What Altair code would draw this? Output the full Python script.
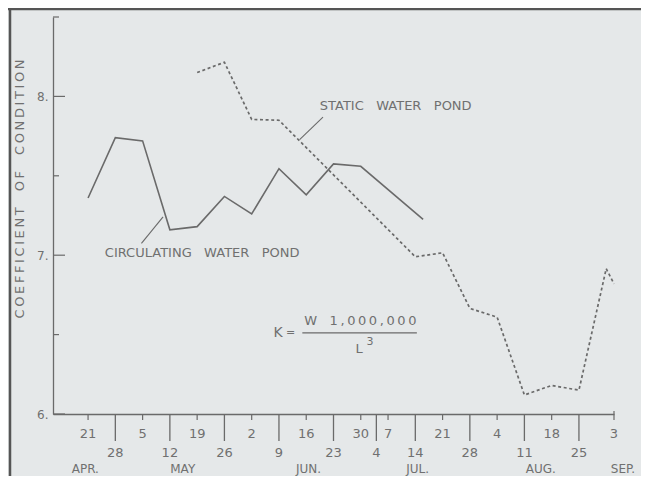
import altair as alt
import pandas as pd

# x is counted in days from April 21
circ_days = [0, 7, 14, 21, 28, 35, 42, 49, 56, 63, 70, 86]
circ_vals = [7.36, 7.74, 7.72, 7.16, 7.18, 7.37, 7.26, 7.545, 7.38, 7.575, 7.56, 7.225]

static_days = [28, 35, 42, 49, 84, 91, 98, 105, 112, 119, 126, 133, 135]
static_vals = [8.15, 8.215, 7.855, 7.85, 6.99, 7.015, 6.665, 6.61, 6.12, 6.18, 6.15, 6.915, 6.82]

row1_days = [0, 14, 28, 42, 56, 70, 77, 91, 105, 119, 135]
row1_labels = ["21", "5", "19", "2", "16", "30", "7", "21", "4", "18", "3"]
row2_days = [7, 21, 35, 49, 63, 74, 84, 98, 112, 126]
row2_labels = ["28", "12", "26", "9", "23", "4", "14", "28", "11", "25"]
month_days = [-0.7, 24.3, 56.6, 84.6, 116.2, 137.3]
month_labels = ["APR.", "MAY", "JUN.", "JUL.", "AUG.", "SEP."]

y_major = [6, 7, 8]
y_minor = [6.5, 7.5, 8.5]

X_DOMAIN = [-9, 135]
Y_DOMAIN = [6, 8.5]
W, H = 561, 397
INK = "#6a6a6a"
TXT = "#707070"
FONT = "DejaVu Sans"

def spread(s, sep="\u200a"):
    return sep.join(s)

xs = alt.Scale(domain=X_DOMAIN, nice=False, zero=False)
ys = alt.Scale(domain=Y_DOMAIN, nice=False, zero=False)

circ = pd.DataFrame({"d": circ_days, "v": circ_vals})
stat = pd.DataFrame({"d": static_days, "v": static_vals})

base_x = alt.X("d:Q", scale=xs,
               axis=alt.Axis(labels=False, ticks=False, grid=False, title=None,
                             domainColor=INK, domainWidth=1.3))
base_y = alt.Y("v:Q", scale=ys,
               axis=alt.Axis(values=y_major, labelExpr="datum.value + '.'", ticks=False,
                             grid=False, title=None, labelPadding=5, labelFontSize=12,
                             labelColor=TXT, labelFont=FONT,
                             domainColor=INK, domainWidth=1.3))

circ_line = alt.Chart(circ).mark_line(color=INK, strokeWidth=1.6).encode(x=base_x, y=base_y)
stat_line = alt.Chart(stat).mark_line(color=INK, strokeWidth=1.7, strokeDash=[3, 2.6]).encode(
    x=alt.X("d:Q", scale=xs), y=alt.Y("v:Q", scale=ys))

# y ticks (pointing into the plot)
ymaj = alt.Chart(pd.DataFrame({"v": y_major})).mark_rule(color=INK, strokeWidth=1.2).encode(
    y=alt.Y("v:Q", scale=ys), x=alt.value(0), x2=alt.value(12))
ymin = alt.Chart(pd.DataFrame({"v": y_minor})).mark_rule(color=INK, strokeWidth=1.2).encode(
    y=alt.Y("v:Q", scale=ys), x=alt.value(0), x2=alt.value(6))

# x ticks
r1 = pd.DataFrame({"d": row1_days, "t": row1_labels})
r2 = pd.DataFrame({"d": row2_days, "t": row2_labels})
mo = pd.DataFrame({"d": month_days, "t": month_labels})

t1 = alt.Chart(r1).mark_rule(color=INK, strokeWidth=1.2).encode(
    x=alt.X("d:Q", scale=xs), y=alt.value(H), y2=alt.value(H + 6))
t2 = alt.Chart(r2).mark_rule(color=INK, strokeWidth=1.3).encode(
    x=alt.X("d:Q", scale=xs), y=alt.value(H), y2=alt.value(H + 27))
cap = alt.Chart(pd.DataFrame({"d": [135]})).mark_rule(color=INK, strokeWidth=1.2).encode(
    x=alt.X("d:Q", scale=xs), y=alt.value(H - 3), y2=alt.value(H))
l1 = alt.Chart(r1).mark_text(font=FONT, fontSize=13, color=TXT, baseline="middle").encode(
    x=alt.X("d:Q", scale=xs), y=alt.value(H + 20), text="t:N")
l2 = alt.Chart(r2).mark_text(font=FONT, fontSize=13, color=TXT, baseline="middle").encode(
    x=alt.X("d:Q", scale=xs), y=alt.value(H + 39), text="t:N")
lm = alt.Chart(mo).mark_text(font=FONT, fontSize=12, color=TXT, baseline="middle").encode(
    x=alt.X("d:Q", scale=xs), y=alt.value(H + 55), text="t:N")

# annotations (in data units)
ann_text = pd.DataFrame({
    "d": [59.5, 4.3],
    "v": [7.937, 7.014],
    "t": ["STATIC\u00a0\u00a0 WATER\u00a0\u00a0 POND", "CIRCULATING\u00a0\u00a0 WATER\u00a0\u00a0 POND"],
})
ann = alt.Chart(ann_text).mark_text(font=FONT, fontSize=13, color=TXT, align="left",
                                    baseline="middle").encode(
    x=alt.X("d:Q", scale=xs), y=alt.Y("v:Q", scale=ys), text="t:N")

ptr = pd.DataFrame({"d": [60.3, 19.25], "v": [7.870, 7.241],
                    "d2": [54.3, 13.7], "v2": [7.728, 7.074]})
ptrs = alt.Chart(ptr).mark_rule(color=INK, strokeWidth=1.1).encode(
    x=alt.X("d:Q", scale=xs), y=alt.Y("v:Q", scale=ys), x2="d2:Q", y2="v2:Q")

fx = pd.DataFrame({
    "d": [48.8, 52.0, 69.9, 69.6, 72.4],
    "v": [6.508, 6.508, 6.585, 6.41, 6.455],
    "t": ["K", "=", "W\u00a0\u00a0 " + spread("1,000,000", "\u2009"), "L", "3"],
    "s": [14, 11, 13, 13, 11],
})
fxt = alt.Chart(fx).mark_text(font=FONT, color=TXT, baseline="middle").encode(
    x=alt.X("d:Q", scale=xs), y=alt.Y("v:Q", scale=ys), text="t:N",
    size=alt.Size("s:Q", scale=None, legend=None))
bar = alt.Chart(pd.DataFrame({"d": [55.0], "d2": [84.4], "v": [6.511]})).mark_rule(
    color=INK, strokeWidth=1.3).encode(
    x=alt.X("d:Q", scale=xs), x2="d2:Q", y=alt.Y("v:Q", scale=ys))

title = alt.Chart(pd.DataFrame({"t": [spread("COEFFICIENT\u00a0 OF\u00a0 CONDITION", "\u2009")]})).mark_text(
    font=FONT, fontSize=13, color=TXT, angle=270, baseline="middle").encode(
    x=alt.value(-33), y=alt.value(172), text="t:N")

# scanned frame edges
frame_l = alt.Chart(pd.DataFrame({"a": [0]})).mark_rule(color="#555555", strokeWidth=2.5).encode(
    x=alt.value(-43), y=alt.value(-9), y2=alt.value(H + 62))
frame_t = alt.Chart(pd.DataFrame({"a": [0]})).mark_rule(color="#555555", strokeWidth=2.5).encode(
    y=alt.value(-8), x=alt.value(-45), x2=alt.value(W + 27))

chart = alt.layer(
    circ_line, stat_line, ymaj, ymin, t1, t2, cap, l1, l2, lm, ann, ptrs, fxt, bar, title,
    frame_l, frame_t,
).properties(
    width=W, height=H,
    autosize=alt.AutoSizeParams(type="none"),
    padding={"left": 45, "top": 9, "right": 27, "bottom": 62},
    background="#e5e8e9",
).configure_view(stroke=None)

chart.save("out.html", embed_options={"renderer": "svg", "actions": False})
